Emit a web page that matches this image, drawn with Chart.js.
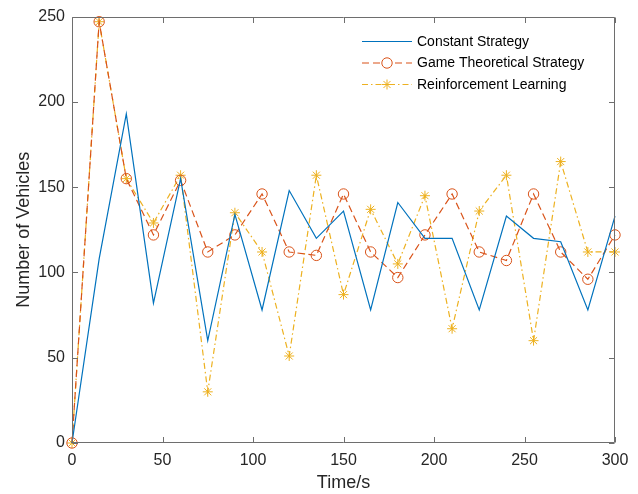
<!DOCTYPE html>
<html>
<head>
<meta charset="utf-8">
<script src="https://cdn.jsdelivr.net/npm/chart.js@4.4.1/dist/chart.umd.min.js"></script>
<style>
  html, body { margin: 0; padding: 0; background: #fff; }
  #wrap { width: 638px; height: 494px; position: relative; }
</style>
</head>
<body>
<div id="wrap"><canvas id="c" width="638" height="494"></canvas></div>
<script>
const times = [0, 15, 30, 45, 60, 75, 90, 105, 120, 135, 150, 165, 180, 195, 210, 225, 240, 255, 270, 285, 300];
const constantStrategy = [0, 108, 193, 82, 155, 60, 134, 78, 148, 120, 136, 78, 141, 120, 120, 78, 133, 120, 118, 78, 133];
const gameTheoretical = [0, 247, 155, 122, 154, 112, 122, 146, 112, 110, 146, 112, 97, 122, 146, 112, 107, 146, 112, 96, 122];
const reinforcement = [0, 247, 155, 129, 157, 30, 135, 112, 51, 157, 87, 137, 105, 145, 67, 136, 157, 60, 165, 112, 112];
const seriesNames = ['Constant Strategy', 'Game Theoretical Strategy', 'Reinforcement Learning'];
const xTicks = [0, 50, 100, 150, 200, 250, 300];
const yTicks = [0, 50, 100, 150, 200, 250];

const FONT = "'Liberation Sans', Arial, Helvetica, sans-serif";
const toPts = arr => arr.map((v, i) => ({ x: times[i], y: v }));

const boxPlugin = {
  id: 'matlabBox',
  afterDatasetsDraw(chart) {
    const { ctx, chartArea: a, scales } = chart;
    const L = Math.round(a.left) + 0.5, R = Math.round(a.right) - 0.5;
    const T = Math.round(a.top) + 0.5, B = Math.round(a.bottom) - 0.5;
    ctx.save();
    ctx.strokeStyle = '#6e6e6e';
    ctx.lineWidth = 1;
    ctx.beginPath();
    ctx.rect(L, T, R - L, B - T);
    const tl = 5.5;
    xTicks.forEach(v => {
      const x = Math.round(scales.x.getPixelForValue(v)) + 0.5;
      ctx.moveTo(x, B); ctx.lineTo(x, B - tl);
      ctx.moveTo(x, T); ctx.lineTo(x, T + tl);
    });
    yTicks.forEach(v => {
      const y = Math.round(scales.y.getPixelForValue(v)) + 0.5;
      ctx.moveTo(L, y); ctx.lineTo(L + tl, y);
      ctx.moveTo(R, y); ctx.lineTo(R - tl, y);
    });
    ctx.stroke();
    ctx.restore();
  },
  afterDraw(chart) {
    const { ctx } = chart;
    const x0 = 362, x1 = 412, tx = 417;
    const rows = [41.5, 63, 84.5];
    ctx.save();
    chart.data.datasets.forEach((ds, i) => {
      const y = rows[i];
      const cx = (x0 + x1) / 2;
      ctx.strokeStyle = ds.borderColor;
      ctx.lineWidth = ds.borderWidth;
      ctx.setLineDash(ds.borderDash || []);
      ctx.beginPath();
      ctx.moveTo(x0, y); ctx.lineTo(x1, y);
      ctx.stroke();
      ctx.setLineDash([]);
      if (ds.pointRadius > 0) {
        if (ds.pointStyle === 'circle') {
          ctx.fillStyle = '#fff';
          ctx.beginPath();
          ctx.arc(cx, y, ds.pointRadius, 0, Math.PI * 2);
          ctx.fill();
        }
        ctx.strokeStyle = ds.pointBorderColor;
        ctx.lineWidth = ds.pointBorderWidth;
        ctx.beginPath();
        if (ds.pointStyle === 'circle') {
          ctx.arc(cx, y, ds.pointRadius, 0, Math.PI * 2);
        } else {
          const r = ds.pointRadius, d = r * Math.SQRT1_2;
          ctx.moveTo(cx - r, y); ctx.lineTo(cx + r, y);
          ctx.moveTo(cx, y - r); ctx.lineTo(cx, y + r);
          ctx.moveTo(cx - d, y - d); ctx.lineTo(cx + d, y + d);
          ctx.moveTo(cx - d, y + d); ctx.lineTo(cx + d, y - d);
        }
        ctx.stroke();
      }
      ctx.fillStyle = '#000';
      ctx.font = '14px ' + FONT;
      ctx.textBaseline = 'middle';
      ctx.textAlign = 'left';
      ctx.fillText(seriesNames[i], tx, y + 0.5);
    });
    ctx.restore();
  }
};

new Chart(document.getElementById('c'), {
  type: 'line',
  data: {
    datasets: [
      {
        label: seriesNames[0],
        data: toPts(constantStrategy),
        borderColor: '#0072BD',
        borderWidth: 1.2,
        pointRadius: 0,
        pointBorderWidth: 1,
        tension: 0,
        clip: false
      },
      {
        label: seriesNames[1],
        data: toPts(gameTheoretical),
        borderColor: '#D95319',
        borderWidth: 1.2,
        borderDash: [7, 4],
        pointStyle: 'circle',
        pointRadius: 5.2,
        pointBorderWidth: 1,
        pointBorderColor: '#D95319',
        pointBackgroundColor: 'rgba(0,0,0,0)',
        tension: 0,
        clip: false
      },
      {
        label: seriesNames[2],
        data: toPts(reinforcement),
        borderColor: '#EDB120',
        borderWidth: 1.2,
        borderDash: [6, 3, 1.5, 3],
        pointStyle: 'star',
        pointRadius: 5,
        pointBorderWidth: 1,
        pointBorderColor: '#EDB120',
        pointBackgroundColor: 'rgba(0,0,0,0)',
        tension: 0,
        clip: false
      }
    ]
  },
  options: {
    responsive: false,
    animation: false,
    devicePixelRatio: 1,
    layout: { padding: { left: 0, top: 15, right: 23, bottom: 0 } },
    plugins: { legend: { display: false }, tooltip: { enabled: false } },
    elements: { point: { hoverRadius: 5 } },
    scales: {
      x: {
        type: 'linear',
        min: 0, max: 300,
        afterFit(s) { s.height = 51; },
        afterBuildTicks(s) { s.ticks = xTicks.map(v => ({ value: v })); },
        grid: { display: false, drawTicks: false },
        border: { display: false },
        ticks: { padding: 8, color: '#262626', font: { family: FONT, size: 16 }, maxRotation: 0 },
        title: { display: true, text: 'Time/s', color: '#262626', font: { family: FONT, size: 18 }, padding: { top: 0, bottom: 0 } }
      },
      y: {
        type: 'linear',
        min: 0, max: 250,
        afterFit(s) { s.width = 72; },
        afterBuildTicks(s) { s.ticks = yTicks.map(v => ({ value: v })); },
        grid: { display: false, drawTicks: false },
        border: { display: false },
        ticks: { padding: 7, color: '#262626', font: { family: FONT, size: 16 } },
        title: { display: true, text: 'Number of Vehicles', color: '#262626', font: { family: FONT, size: 18 }, padding: { top: 13, bottom: 0 } }
      }
    }
  },
  plugins: [boxPlugin]
});
</script>
</body>
</html>
